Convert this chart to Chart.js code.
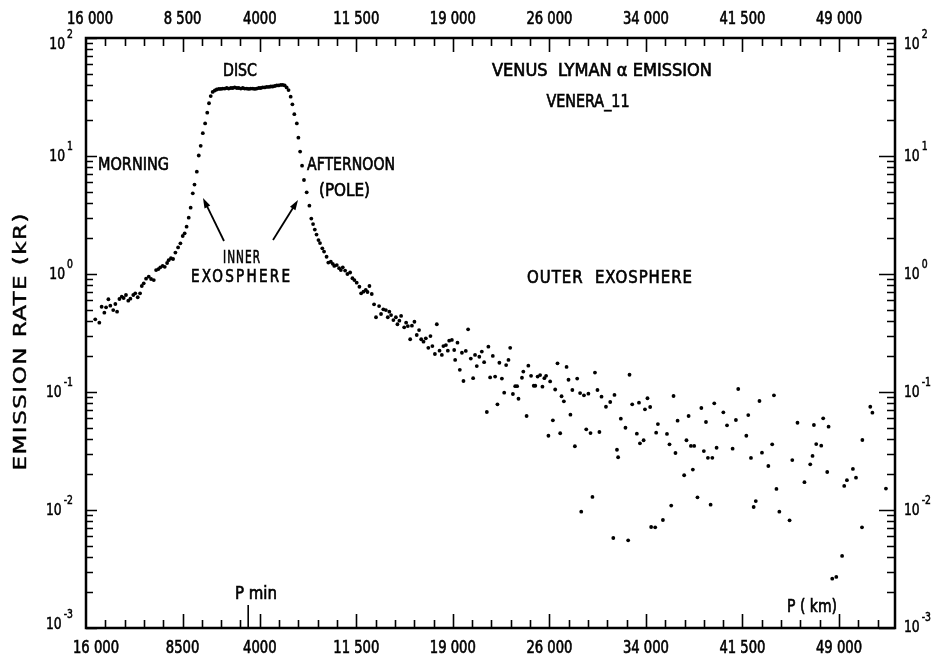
<!DOCTYPE html>
<html>
<head>
<meta charset="utf-8">
<script src="https://cdn.jsdelivr.net/npm/chart.js@4"></script>
<style>
  html, body { margin: 0; padding: 0; background: #fff; }
  canvas { display: block; }
</style>
</head>
<body>
<canvas id="lyman" width="937" height="659"></canvas>
<script>
// time axis in minutes from start of the pass, ticks every 10 min
var minuteTickStep = 10;
var passEndMinute = 419;
var distanceTickMinutes = [0, 50, 90, 140, 190, 240, 290, 340, 390];
var distanceLabelsTop = ["16 000", "8 500", "4000", "11 500", "19 000", "26 000", "34 000", "41 500", "49 000"];
var distanceLabelsBottom = ["16 000", "8500", "4000", "11 500", "19 000", "26 000", "34 000", "41 500", "49 000"];
var periapsisMinute = 84;
var decadeExponents = [-3, -2, -1, 0, 1, 2];

// inbound, morning side (kR)
var morningTime = [4.8, 6.9, 8.1, 9.5, 10.4, 11.6, 12.6, 14.1, 15.2, 16.1, 17.3, 18.5, 19.5, 20.7, 21.9, 23.0, 24.5, 25.5, 26.8, 28.0,
  28.9, 29.9, 31.1, 32.5, 33.7, 35.1, 36.3, 37.5, 38.5, 39.7, 40.8, 42.0, 42.8, 44.0, 45.1, 46.3, 47.7, 48.9, 50.1, 51.1,
  52.1, 53.2, 54.2, 55.3, 56.2, 57.4, 58.4, 59.4, 60.5, 61.7, 62.8, 63.7, 64.6];
var morningRate = [0.413, 0.387, 0.528, 0.470, 0.522, 0.611, 0.539, 0.495, 0.557, 0.479, 0.614, 0.642, 0.626, 0.664, 0.594, 0.618, 0.664, 0.686, 0.635, 0.686,
  0.791, 0.834, 0.912, 0.949, 0.907, 0.889, 1.08, 1.10, 1.14, 1.17, 1.15, 1.24, 1.31, 1.36, 1.34, 1.52, 1.68, 1.82, 2.10, 2.21,
  2.52, 3.00, 3.65, 4.83, 5.73, 7.36, 10.1, 12.2, 15.6, 18.9, 23.3, 28.0, 32.2];

// looking at the disc
var discTime = [65.6, 66.7, 67.7, 68.8, 69.8, 70.8, 71.9, 72.9, 73.9, 75.0, 76.0, 77.0, 78.1, 79.1, 80.2, 81.2, 82.2, 83.3, 84.3, 85.3,
  86.4, 87.4, 88.4, 89.5, 90.5, 91.5, 92.6, 93.6, 94.7, 95.7, 96.7, 97.8, 98.8, 99.8, 100.9, 101.9, 102.9, 103.9];
var discRate = [34.9, 35.9, 36.6, 37.0, 37.0, 37.3, 37.3, 37.7, 37.3, 37.7, 37.7, 38.1, 37.7, 37.7, 37.3, 37.7, 37.3, 37.3, 37.0, 37.3,
  37.3, 37.0, 37.3, 37.7, 37.7, 38.1, 38.1, 38.5, 38.5, 38.8, 38.8, 39.2, 39.6, 39.6, 40.0, 40.0, 39.6, 38.1];

// outbound, afternoon (pole) side
var afternoonTime = [104.9, 106.0, 106.9, 107.9, 109.2, 110.0, 110.9, 111.9, 112.9, 114.3, 115.7, 116.7, 117.6, 118.5, 119.4, 120.4, 121.2, 122.4, 123.3, 124.6,
  125.5, 126.8, 127.8, 128.6, 129.9, 131.1, 132.0, 133.0, 134.2, 135.4, 136.8, 138.0, 139.0, 140.2, 141.6, 142.5, 143.7, 144.9, 145.8, 146.8, 148.0];
var afternoonRate = [36.2, 31.8, 27.4, 22.6, 18.9, 14.3, 10.9, 8.28, 6.26, 4.92, 3.79, 2.95, 2.65, 2.38, 2.16, 1.94, 1.83, 1.65, 1.55, 1.40,
  1.25, 1.27, 1.22, 1.17, 1.19, 1.12, 1.08, 1.14, 1.07, 1.00, 1.03, 0.920, 0.889, 0.844, 0.780, 0.686, 0.708, 0.732, 0.704, 0.791, 0.677];

// outer exosphere
var outerNearTime = [149.2, 150.2, 151.8, 152.8, 154.0, 155.3, 156.3, 157.1, 158.0, 159.2, 160.5, 161.3, 162.3, 163.2, 164.8, 165.8, 166.7, 167.9, 168.8, 170.1,
  171.3, 172.5, 173.6, 174.8, 176.0, 177.3, 178.4, 179.4, 180.7, 181.7, 183.1, 184.3, 185.1, 186.4, 187.4, 188.1, 189.5, 190.7, 191.2, 192.4,
  193.6, 194.7, 195.5, 196.7, 197.9, 199.3, 200.5, 201.5, 202.4, 203.7, 205.0, 206.2, 207.6, 208.4, 209.3, 210.7, 211.9, 213.1, 214.1, 215.4,
  216.6, 217.6, 218.8, 219.7, 221.1, 222.3, 223.3, 224.0, 225.8, 226.5, 228.2, 229.1, 230.5, 231.9, 232.7, 233.9, 235.2, 236.4, 237.4, 238.3,
  239.5, 240.4, 241.8, 243.0, 244.2, 245.6, 246.3, 247.5, 248.9, 249.9, 250.9, 251.9, 253.2, 254.4, 255.9, 256.5, 257.9, 259.1];
var outerNearRate = [0.553, 0.430, 0.535, 0.458, 0.502, 0.495, 0.430, 0.479, 0.449, 0.407, 0.430, 0.375, 0.402, 0.441, 0.353, 0.387, 0.362, 0.280, 0.365, 0.394,
  0.304, 0.335, 0.280, 0.267, 0.285, 0.237, 0.298, 0.245, 0.210, 0.375, 0.224, 0.206, 0.245, 0.250, 0.224, 0.272, 0.276, 0.227, 0.187, 0.262,
  0.154, 0.215, 0.124, 0.223, 0.340, 0.192, 0.131, 0.206, 0.166, 0.199, 0.220, 0.179, 0.0677, 0.242, 0.133, 0.202, 0.135, 0.0787, 0.177, 0.130,
  0.0986, 0.169, 0.187, 0.237, 0.0962, 0.112, 0.112, 0.0877, 0.132, 0.149, 0.0626, 0.167, 0.137, 0.113, 0.113, 0.135, 0.139, 0.111, 0.131, 0.137,
  0.0426, 0.123, 0.0575, 0.105, 0.175, 0.0447, 0.092, 0.0834, 0.163, 0.127, 0.0642, 0.104, 0.0347, 0.130, 0.098, 0.00968, 0.0938, 0.0483];

var outerFarTime = [260.2, 261.3, 262.3, 263.6, 264.9, 265.9, 267.0, 269.3, 271.5, 273.1, 273.7, 275.0, 275.6, 277.0, 279.4, 280.8, 281.5, 282.9, 285.3, 286.4,
  286.9, 288.8, 289.5, 290.8, 292.2, 292.7, 294.8, 295.3, 296.2, 298.8, 300.9, 302.2, 303.1, 304.3, 305.3, 306.4, 309.8, 311.0, 312.1, 313.3,
  314.3, 315.0, 316.7, 318.7, 320.0, 321.1, 322.1, 323.5, 324.4, 325.4, 326.6, 330.1, 332.0, 334.9, 336.6, 337.8, 342.0, 343.0, 344.4, 345.8,
  346.9, 348.8, 350.1, 353.4, 355.4, 356.3, 357.6, 359.1, 364.4, 365.8, 368.5, 372.1, 375.1, 376.3, 377.0, 378.2, 380.8, 381.8, 383.9, 384.6,
  386.5, 388.6, 391.6, 392.7, 394.1, 397.2, 398.8, 401.9, 402.1, 406.2, 407.3, 414.3];
var outerFarRate = [0.0968, 0.0449, 0.0129, 0.146, 0.104, 0.0458, 0.0912, 0.0750, 0.0823, 0.00579, 0.0944, 0.0324, 0.0280, 0.0594, 0.0498, 0.00553, 0.140, 0.0787, 0.0443, 0.0812,
  0.0367, 0.0390, 0.0713, 0.0885, 0.0746, 0.00718, 0.00713, 0.0452, 0.0535, 0.00823, 0.0441, 0.0360, 0.0109, 0.0925, 0.0304, 0.0571, 0.0197, 0.0390, 0.0626, 0.0349,
  0.0220, 0.0349, 0.0128, 0.0732, 0.0316, 0.0557, 0.0277, 0.0111, 0.0277, 0.0802, 0.0337, 0.0673, 0.0522, 0.0331, 0.0579, 0.106, 0.0426, 0.0638, 0.0276, 0.0106,
  0.0119, 0.0839, 0.0306, 0.0236, 0.0360, 0.0938, 0.0151, 0.00968, 0.00818, 0.0265, 0.0549, 0.0172, 0.0244, 0.0287, 0.0525, 0.0362, 0.0351, 0.0598, 0.0210, 0.0508,
  0.00262, 0.00271, 0.00408, 0.0160, 0.0179, 0.0223, 0.0188, 0.00713, 0.0392, 0.0750, 0.0668, 0.0152];

var FONT = '"DejaVu Sans Condensed", "DejaVu Sans", sans-serif';

function toPoints(times, rates) {
  return times.map(function (t, i) { return { x: t, y: rates[i] }; });
}

var points = []
  .concat(toPoints(morningTime, morningRate))
  .concat(toPoints(discTime, discRate))
  .concat(toPoints(afternoonTime, afternoonRate))
  .concat(toPoints(outerNearTime, outerNearRate))
  .concat(toPoints(outerFarTime, outerFarRate));

// lettering: fixed width if given, otherwise narrowed; a thin stroke thickens it
function fitText(ctx, text, cx, cy, width, size, opts) {
  opts = opts || {};
  ctx.save();
  ctx.font = size + "px " + FONT;
  ctx.textAlign = "center";
  ctx.textBaseline = "middle";
  if (opts.spacing) ctx.letterSpacing = opts.spacing + "px";
  var w = ctx.measureText(text).width;
  if (opts.spacing) w -= opts.spacing;
  ctx.translate(cx, cy);
  if (opts.angle) ctx.rotate(opts.angle);
  ctx.scale(width ? width / w : 0.86, 1);
  var shift = opts.spacing ? opts.spacing / 2 : 0;
  ctx.lineWidth = opts.stroke === undefined ? 0.6 : opts.stroke;
  if (ctx.lineWidth > 0) ctx.strokeText(text, shift, 1);
  ctx.fillText(text, shift, 1);
  ctx.restore();
}

function arrow(ctx, x0, y0, x1, y1) {
  var a = Math.atan2(y1 - y0, x1 - x0);
  ctx.beginPath();
  ctx.moveTo(x0, y0);
  ctx.lineTo(x1 - 6 * Math.cos(a), y1 - 6 * Math.sin(a));
  ctx.lineWidth = 1.8;
  ctx.stroke();
  ctx.beginPath();
  ctx.moveTo(x1, y1);
  ctx.lineTo(x1 - 10 * Math.cos(a) + 3.2 * Math.sin(a), y1 - 10 * Math.sin(a) - 3.2 * Math.cos(a));
  ctx.lineTo(x1 - 10 * Math.cos(a) - 3.2 * Math.sin(a), y1 - 10 * Math.sin(a) + 3.2 * Math.cos(a));
  ctx.closePath();
  ctx.fill();
}

// "10" with a raised exponent; side says which end x is
function powerLabel(ctx, exp, x, y, side) {
  var e = String(exp);
  ctx.save();
  ctx.textBaseline = "middle";
  ctx.textAlign = "left";
  ctx.lineWidth = 0.5;
  ctx.font = "16px " + FONT;
  var w10 = ctx.measureText("10").width * 0.86;
  ctx.font = "12px " + FONT;
  var we = ctx.measureText(e).width * 0.86;
  var x0 = side === "left" ? x - w10 - we - 2 : x;
  ctx.translate(x0, y);
  ctx.scale(0.86, 1);
  ctx.font = "16px " + FONT;
  ctx.strokeText("10", 0, 1);
  ctx.fillText("10", 0, 1);
  ctx.font = "12px " + FONT;
  ctx.strokeText(e, (w10 + 2) / 0.86, -9);
  ctx.fillText(e, (w10 + 2) / 0.86, -9);
  ctx.restore();
}

var frame = {
  id: "frame",
  afterDatasetsDraw: function (chart) {
    var ctx = chart.ctx;
    var a = chart.chartArea;
    var xs = chart.scales.x;
    var ys = chart.scales.y;
    ctx.save();
    ctx.strokeStyle = "#000";
    ctx.fillStyle = "#000";
    ctx.lineWidth = 2.5;
    ctx.strokeRect(a.left, a.top, a.right - a.left, a.bottom - a.top);

    // minute ticks, longer where the distance is labelled
    ctx.lineWidth = 1.6;
    for (var m = minuteTickStep; m < passEndMinute; m += minuteTickStep) {
      var px = Math.round(xs.getPixelForValue(m)) + 0.5;
      var len = distanceTickMinutes.indexOf(m) >= 0 ? 14 : 8;
      ctx.beginPath();
      ctx.moveTo(px, a.bottom); ctx.lineTo(px, a.bottom - len);
      ctx.moveTo(px, a.top); ctx.lineTo(px, a.top + len);
      ctx.stroke();
    }
    var pp = xs.getPixelForValue(periapsisMinute);
    ctx.beginPath();
    ctx.moveTo(pp, a.bottom); ctx.lineTo(pp, a.bottom - 23);
    ctx.stroke();

    // log ticks on both sides
    for (var i = 0; i < decadeExponents.length; i++) {
      var e = decadeExponents[i];
      for (var k = 1; k <= 9; k++) {
        var v = k * Math.pow(10, e);
        if (v > 100 || (e === 2 && k > 1)) break;
        var py = Math.round(ys.getPixelForValue(v)) + 0.5;
        ctx.beginPath();
        ctx.moveTo(a.left, py); ctx.lineTo(a.left + (k === 1 ? 11 : 7), py);
        ctx.moveTo(a.right, py); ctx.lineTo(a.right - (k === 1 ? 16 : 8), py);
        ctx.stroke();
      }
    }

    // tick labels
    for (var j = 0; j < distanceTickMinutes.length; j++) {
      var tx = xs.getPixelForValue(distanceTickMinutes[j]);
      var shiftB = j === 0 ? 10 : 0;
      var shiftT = j === 0 ? 4 : 0;
      fitText(ctx, distanceLabelsTop[j], tx + shiftT, 19, null, 17);
      fitText(ctx, distanceLabelsBottom[j], tx + shiftB, 648, null, 17);
    }
    for (var d = 0; d < decadeExponents.length; d++) {
      var ex = decadeExponents[d];
      var ly = ys.getPixelForValue(Math.pow(10, ex));
      var off = ex === 2 ? 6 : (ex === -3 ? -4 : 0);
      powerLabel(ctx, ex, 73, ly + off, "left");
      powerLabel(ctx, ex, 904, ly + off + (ex === -3 ? 3 : 0), "right");
    }

    // annotations
    fitText(ctx, "EMISSION RATE (kR)", 21, 342, 257, 17, { angle: -Math.PI / 2, spacing: 1, stroke: 0.4 });
    fitText(ctx, "DISC", 240, 71, 34, 17);
    fitText(ctx, "VENUS  LYMAN \u03B1 EMISSION", 602, 71, 220, 17);
    fitText(ctx, "VENERA_11", 588, 102, 83, 17);
    fitText(ctx, "MORNING", 133.5, 165, 71, 17);
    fitText(ctx, "AFTERNOON", 351, 165, 88, 17);
    fitText(ctx, "(POLE)", 344.5, 191, 51, 17);
    fitText(ctx, "INNER", 241.5, 258, 37, 17, { spacing: 1.5 });
    fitText(ctx, "EXOSPHERE", 240.5, 277, 99, 17, { spacing: 2.5 });
    fitText(ctx, "OUTER  EXOSPHERE", 609.5, 278, 165, 17, { spacing: 1 });
    fitText(ctx, "P min", 256, 594, 42, 17);
    fitText(ctx, "P ( km)", 812, 607, 50, 17);
    arrow(ctx, 224, 241, 203, 198);
    arrow(ctx, 273, 240, 298, 200);
    ctx.restore();
  }
};

var config = {
  type: "scatter",
  data: {
    datasets: [
      {
        label: "Lyman alpha",
        data: points,
        pointRadius: 1.9,
        pointBackgroundColor: "#000",
        pointBorderWidth: 0,
        showLine: false,
      },
    ],
  },
  options: {
    responsive: false,
    animation: false,
    layout: { padding: { left: 86, right: 42, top: 38, bottom: 31 } },
    plugins: { legend: { display: false }, tooltip: { enabled: false } },
    scales: {
      x: { type: "linear", min: 0, max: passEndMinute, display: false },
      y: { type: "logarithmic", min: 0.001, max: 100, display: false },
    },
  },
  plugins: [frame],
};

var lymanChart = new Chart(document.getElementById("lyman"), config);
</script>
</body>
</html>
